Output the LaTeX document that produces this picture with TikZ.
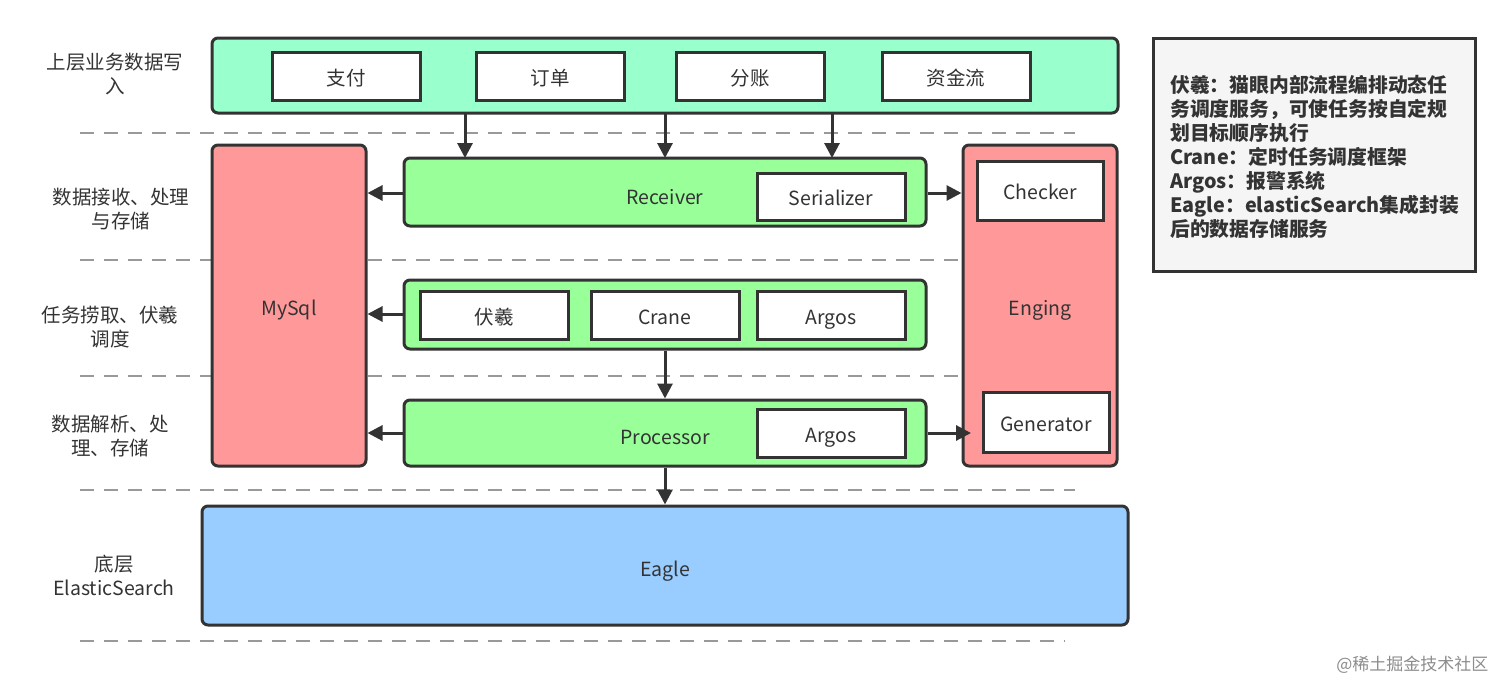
\documentclass[tikz,border=0pt]{standalone}
\usepackage{fontspec}
\setmainfont{Noto Sans CJK SC}
\usetikzlibrary{arrows.meta}
\definecolor{mint}{HTML}{99FFCC}
\definecolor{lgreen}{HTML}{99FF99}
\definecolor{lred}{HTML}{FF9999}
\definecolor{lblue}{HTML}{99CCFF}
\definecolor{ink}{HTML}{333333}
\definecolor{notebg}{HTML}{F5F5F5}
\tikzset{
  box/.style={draw=ink, line width=3pt, rounded corners=6pt, inner sep=0pt},
  inbox/.style={draw=ink, line width=3pt, fill=white, inner sep=0pt, font=\fontsize{19.5}{22}\selectfont, text=ink, text height=18pt, text depth=0pt},
  lbl/.style={font=\fontsize{19.5}{24}\selectfont, text=ink, align=center},
  sep/.style={draw=black!40, line width=1.5pt, dash pattern=on 14pt off 10pt},
  arr/.style={draw=ink, line width=3pt, -{Triangle[length=15pt,width=15pt]}},
}
\begin{document}
\begin{tikzpicture}[x=1pt,y=-1pt]
\useasboundingbox (0,0) rectangle (1512,696);
% dashed separators
\foreach \yy in {133,260,376,490} \draw[sep] (80,\yy) -- (1075,\yy);
\draw[sep] (80,641) -- (1065,641);
% top layer
\node[box, fill=mint, minimum width=906pt, minimum height=75pt] (top) at (665,75.5) {};
\node[inbox, minimum width=148pt, minimum height=48pt] (zf) at (346,76) {支付};
\node[inbox, minimum width=148pt, minimum height=48pt] (dd) at (550,76) {订单};
\node[inbox, minimum width=148pt, minimum height=48pt] (fz) at (750,76) {分账};
\node[inbox, minimum width=148pt, minimum height=48pt] (zjl) at (956,76) {资金流};
% MySql and Enging
\node[box, fill=lred, minimum width=154pt, minimum height=321pt] (mysql) at (289,305.5) {};
\node[lbl] at (289,310) {MySql};
\node[box, fill=lred, minimum width=154pt, minimum height=321pt] (eng) at (1040,305.5) {};
\node[lbl] at (1040,310) {Enging};
\node[inbox, minimum width=126pt, minimum height=59pt] (chk) at (1040,190.5) {Checker};
\node[inbox, minimum width=126pt, minimum height=60pt] (gen) at (1046,422) {Generator};
% Receiver
\node[box, fill=lgreen, minimum width=522pt, minimum height=68pt] (rcv) at (665,192) {};
\node[lbl] at (665,197) {Receiver};
\node[inbox, minimum width=148pt, minimum height=47pt] (ser) at (831,196.5) {Serializer};
% task layer
\node[box, fill=lgreen, minimum width=522pt, minimum height=69pt] (task) at (665,314.5) {};
\node[inbox, minimum width=148pt, minimum height=48pt] (fx) at (494,315) {伏羲};
\node[inbox, minimum width=148pt, minimum height=48pt] (crane) at (665,315) {Crane};
\node[inbox, minimum width=148pt, minimum height=48pt] (argos1) at (831,315) {Argos};
% Processor
\node[box, fill=lgreen, minimum width=522pt, minimum height=66pt] (proc) at (665,433) {};
\node[lbl] at (665,437) {Processor};
\node[inbox, minimum width=148pt, minimum height=48pt] (argos2) at (831,433) {Argos};
% Eagle
\node[box, fill=lblue, minimum width=926pt, minimum height=119pt] (eagle) at (665,565.5) {};
\node[lbl] at (665,571) {Eagle};
% arrows
\coordinate (t1) at (465,113.5); \coordinate (r1) at (465,158);
\coordinate (t2) at (665,113.5); \coordinate (r2) at (665,158);
\coordinate (t3) at (832,113.5); \coordinate (r3) at (832,158);
\draw[arr] (t1) -- (r1);
\draw[arr] (t2) -- (r2);
\draw[arr] (t3) -- (r3);
\draw[arr] (rcv.west |- 0,193) -- (mysql.east |- 0,193);
\draw[arr] (rcv.east |- 0,193) -- (eng.west |- 0,193);
\draw[arr] (task.west |- 0,314) -- (mysql.east |- 0,314);
\draw[arr] (task.south) -- (proc.north);
\draw[arr] (proc.west |- 0,433) -- (mysql.east |- 0,433);
\draw[arr] (proc.east |- 0,433) -- (971,433);
\draw[arr] (proc.south) -- (eagle.north);
% left labels
\node[lbl] (l1) at (115,74) {上层业务数据写\\入};
\node[lbl] (l2) at (121,209) {数据接收、处理\\与存储};
\node[lbl] (l3) at (110,327) {任务捞取、伏羲\\调度};
\node[lbl] (l4) at (110,436) {数据解析、处\\理、存储};
\node[lbl] (l5) at (114,575) {底层\\ElasticSearch};
% note
\node[draw=ink, line width=3pt, fill=notebg, minimum width=322pt, minimum height=233pt] (note) at (1314,154.5) {};
\node[anchor=north west, align=left, inner sep=0pt, text=ink, font=\fontsize{19.8}{24}\selectfont\bfseries] (notetxt) at (1170,75) {伏羲：猫眼内部流程编排动态任\\务调度服务，可使任务按自定规\\划目标顺序执行\\Crane：定时任务调度框架\\Argos：报警系统\\Eagle：elasticSearch集成封装\\后的数据存储服务};
% watermark
\node[anchor=east, text=black!45, font=\fontsize{17}{20}\selectfont] (wm) at (1492,665) {@稀土掘金技术社区};
\end{tikzpicture}
\end{document}
